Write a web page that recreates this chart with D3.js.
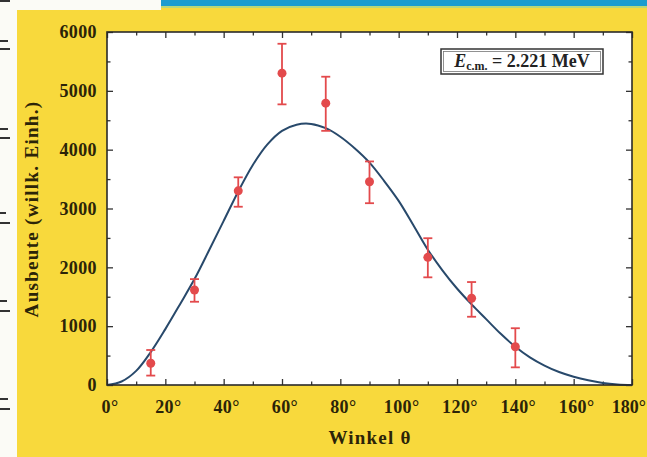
<!DOCTYPE html>
<html>
<head>
<meta charset="utf-8">
<script src="https://cdn.jsdelivr.net/npm/d3@7"></script>
<style>
html,body{margin:0;padding:0;background:#f8d93c;}
svg{display:block;}
</style>
</head>
<body>
<svg id="chart" width="647" height="457"></svg>
<script>
// ---- data ----
const angles = [15, 30, 45, 60, 75, 90, 110, 125, 140];
const yields = [370, 1615, 3300, 5300, 4790, 3455, 2170, 1475, 650];
const errLow = [160, 1415, 3030, 4770, 4320, 3090, 1830, 1160, 300];
const errHigh = [595, 1800, 3530, 5800, 5240, 3800, 2495, 1750, 965];
const fitAngles = [0, 5, 10, 15, 20, 25, 30, 35, 40, 45, 50, 55, 60, 65, 70, 75, 80, 85, 90, 95, 100, 105, 110, 115, 120, 125, 130, 135, 140, 145, 150, 155, 160, 165, 170, 175, 180];
const fitValues = [0, 60, 240, 560, 950, 1370, 1800, 2290, 2790, 3290, 3740, 4090, 4320, 4425, 4438, 4365, 4220, 4020, 3780, 3470, 3130, 2720, 2300, 1950, 1640, 1370, 1120, 870, 650, 470, 330, 220, 140, 80, 35, 10, 0];
const xTicks = [0, 20, 40, 60, 80, 100, 120, 140, 160, 180];
const yTicks = [0, 1000, 2000, 3000, 4000, 5000, 6000];
const xLabel = "Winkel θ";
const yLabel = "Ausbeute (willk. Einh.)";

// ---- layout ----
const svg = d3.select("#chart");
const L = 107, R = 632, T = 32, B = 385;
const x = d3.scaleLinear().domain([0, 180]).range([L, R]);
const y = d3.scaleLinear().domain([0, 6000]).range([B, T]);
const textCol = "#2b2408";
const serif = "'Liberation Serif','DejaVu Serif',serif";

// background decorations
svg.append("rect").attr("x", 0).attr("y", 0).attr("width", 647).attr("height", 457).attr("fill", "#f8d93c");
svg.append("rect").attr("x", 0).attr("y", 0).attr("width", 17).attr("height", 457).attr("fill", "#fbfbf6");
svg.append("rect").attr("x", 0).attr("y", 0).attr("width", 161).attr("height", 10).attr("fill", "#fbfbf6");
svg.append("rect").attr("x", 161).attr("y", 0).attr("width", 486).attr("height", 6).attr("fill", "#1c9ccf");
svg.append("rect").attr("x", 161).attr("y", 6).attr("width", 486).attr("height", 2).attr("fill", "#b9d77a");
// fragments of page at left edge
[[40, 8], [48, 10], [128, 8], [137, 10], [212, 6], [222, 10], [300, 7], [310, 10], [398, 8], [408, 10]].forEach(d => {
  svg.append("rect").attr("x", 0).attr("y", d[0]).attr("width", d[1]).attr("height", 2).attr("fill", "#333");
});
svg.append("rect").attr("x", 0).attr("y", 0).attr("width", 10).attr("height", 2).attr("fill", "#333");

// plot area
svg.append("rect").attr("x", L).attr("y", T).attr("width", R - L).attr("height", B - T).attr("fill", "#ffffff");

// axes with inward ticks
const g = svg.append("g");
const mk = (axis, tx, ty) => g.append("g").attr("transform", `translate(${tx},${ty})`).call(axis)
  .call(s => s.select(".domain").remove())
  .call(s => s.selectAll("text").remove())
  .call(s => s.selectAll("line").attr("stroke", "#333").attr("stroke-width", 1.3));
const xMinor = d3.range(10, 180, 20);
const yMinor = d3.range(500, 6000, 1000);
mk(d3.axisBottom(x).tickValues(xTicks).tickSize(-6), 0, B);
mk(d3.axisBottom(x).tickValues(xMinor).tickSize(-3.5), 0, B);
mk(d3.axisTop(x).tickValues(xTicks).tickSize(-6), 0, T);
mk(d3.axisTop(x).tickValues(xMinor).tickSize(-3.5), 0, T);
mk(d3.axisLeft(y).tickValues(yTicks).tickSize(-6), L, 0);
mk(d3.axisLeft(y).tickValues(yMinor).tickSize(-3.5), L, 0);
mk(d3.axisRight(y).tickValues(yTicks).tickSize(-6), R, 0);
mk(d3.axisRight(y).tickValues(yMinor).tickSize(-3.5), R, 0);

// tick labels
svg.append("g").selectAll("text").data(yTicks).join("text")
  .attr("x", 97).attr("y", d => y(d)).attr("dy", "0.35em")
  .attr("text-anchor", "end").attr("font-family", serif).attr("font-weight", "bold")
  .attr("font-size", 18).attr("letter-spacing", 0.4).attr("fill", textCol).text(d => d);
svg.append("g").selectAll("text").data(xTicks).join("text")
  .attr("x", d => d === 180 ? 646 : x(d) + 3).attr("y", 413)
  .attr("text-anchor", d => d === 180 ? "end" : "middle").attr("font-family", serif).attr("font-weight", "bold")
  .attr("font-size", 18).attr("letter-spacing", d => d === 180 ? 0 : 0.4).attr("fill", textCol).text(d => d + "°");

// axis titles
svg.append("text").attr("x", 370).attr("y", 444).attr("text-anchor", "middle")
  .attr("font-family", serif).attr("font-weight", "bold").attr("font-size", 19)
  .attr("letter-spacing", 1.2).attr("fill", textCol)
  .text(xLabel);
svg.append("text").attr("transform", "translate(38,209) rotate(-90)").attr("text-anchor", "middle")
  .attr("font-family", serif).attr("font-weight", "bold").attr("font-size", 19)
  .attr("letter-spacing", 1.3).attr("fill", textCol)
  .text(yLabel);

// fit curve
const fit = fitAngles.map((a, i) => [a, fitValues[i]]);
svg.append("path").datum(fit)
  .attr("d", d3.line().x(d => x(d[0])).y(d => y(d[1])).curve(d3.curveCatmullRom.alpha(0.5)))
  .attr("fill", "none").attr("stroke", "#28496b").attr("stroke-width", 2);

// error bars and points
const red = "#e34a4c";
const pts = angles.map((a, i) => ({a, v: yields[i], lo: errLow[i], hi: errHigh[i]}));
const eb = svg.append("g").attr("stroke", red).attr("stroke-width", 1.8);
eb.selectAll(".v").data(pts).join("line").attr("x1", d => x(d.a)).attr("x2", d => x(d.a))
  .attr("y1", d => y(d.lo)).attr("y2", d => y(d.hi));
eb.selectAll(".t").data(pts).join("line").attr("x1", d => x(d.a) - 4.5).attr("x2", d => x(d.a) + 4.5)
  .attr("y1", d => y(d.hi)).attr("y2", d => y(d.hi));
eb.selectAll(".b").data(pts).join("line").attr("x1", d => x(d.a) - 4.5).attr("x2", d => x(d.a) + 4.5)
  .attr("y1", d => y(d.lo)).attr("y2", d => y(d.lo));
svg.append("g").selectAll("circle").data(pts).join("circle")
  .attr("cx", d => x(d.a)).attr("cy", d => y(d.v)).attr("r", 4.5).attr("fill", red);

// frame
svg.append("rect").attr("x", L).attr("y", T).attr("width", R - L).attr("height", B - T)
  .attr("fill", "none").attr("stroke", "#2a2a2a").attr("stroke-width", 1.6);

// energy label box
const bx = 441, by = 49, bw = 162, bh = 25;
svg.append("rect").attr("x", bx).attr("y", by).attr("width", bw).attr("height", bh)
  .attr("fill", "#fff").attr("stroke", "#333").attr("stroke-width", 1.5);
svg.append("rect").attr("x", bx + 2.5).attr("y", by + 2.5).attr("width", bw - 5).attr("height", bh - 5)
  .attr("fill", "none").attr("stroke", "#777").attr("stroke-width", 0.8);
const lt = svg.append("text").attr("x", bx + bw / 2).attr("y", by + 18).attr("text-anchor", "middle")
  .attr("font-family", serif).attr("font-size", 18).attr("fill", "#222");
lt.append("tspan").attr("font-style", "italic").attr("font-weight", "bold").text("E");
lt.append("tspan").attr("font-size", 12).attr("font-weight", "bold").attr("dy", 3).text("c.m.");
lt.append("tspan").attr("dy", -3).attr("font-weight", "bold").text(" = 2.221 MeV");
</script>
</body>
</html>
